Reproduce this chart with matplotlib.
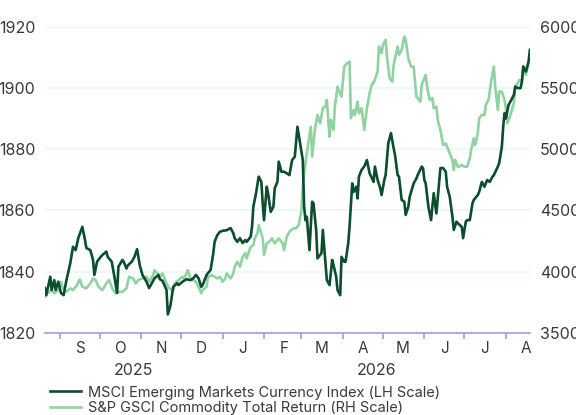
import matplotlib
matplotlib.use("Agg")
import matplotlib.pyplot as plt
import matplotlib.dates as mdates
import matplotlib.transforms as mtransforms
import pandas as pd

plt.rcParams['font.family'] = ['Inter', 'DejaVu Sans']

start = pd.Timestamp("2025-08-21")

# MSCI EM currency index, days since start and level (left scale)
msci_days = [0, 1, 4, 5, 7, 8, 10, 12, 14, 16, 19, 21, 23, 25, 28, 30, 31, 34, 36, 37,
             39, 41, 43, 46, 47, 50, 52, 54, 55, 58, 59, 61, 62, 65, 67, 69, 71, 73, 76, 78,
             80, 82, 85, 86, 88, 91, 92, 94, 96, 99, 100, 103, 106, 109, 111, 113, 115, 117, 118, 121,
             122, 124, 126, 127, 129, 131, 133, 136, 139, 141, 142, 144, 146, 148, 150, 151, 154, 155, 156, 158,
             160, 162, 163, 164, 166, 167, 169, 171, 172, 174, 175, 177, 179, 181, 183, 185, 187, 189, 190, 193,
             194, 195, 196, 198, 200, 201, 203, 204, 207, 208, 210, 211, 213, 215, 216, 218, 219, 221, 222, 224,
             225, 227, 228, 230, 231, 233, 234, 235, 237, 239, 241, 243, 246, 247, 249, 251, 252, 254, 255, 257,
             259, 261, 262, 264, 265, 267, 269, 270, 272, 273, 276, 278, 279, 282, 283, 284, 285, 287, 289, 291,
             293, 296, 298, 300, 301, 303, 305, 306, 308, 309, 312, 313, 315, 316, 318, 320, 321, 324, 325, 327,
             329, 331, 333, 335, 336, 339, 340, 342, 343, 344, 345, 347, 349, 351, 352, 354, 356, 357, 358, 360,
             362, 363]
msci = [1834.6, 1832.3, 1838.3, 1834.0, 1837.2, 1834.0, 1836.7, 1833.0, 1832.3, 1837.0, 1842.8, 1848.1, 1847.0, 1851.0, 1854.6, 1850.3, 1847.7, 1847.0, 1843.8, 1838.9,
        1843.2, 1844.4, 1845.4, 1846.5, 1844.8, 1843.2, 1838.3, 1833.0, 1841.6, 1843.8, 1843.2, 1841.0, 1842.0, 1843.2, 1844.8, 1847.3, 1842.0, 1838.9, 1836.7, 1834.6,
        1836.2, 1837.8, 1838.9, 1837.5, 1837.0, 1834.0, 1826.0, 1829.0, 1835.0, 1836.2, 1835.6, 1836.7, 1837.5, 1837.2, 1837.8, 1838.9, 1837.8, 1835.0, 1835.6, 1838.9,
        1839.5, 1840.5, 1846.0, 1849.7, 1851.9, 1853.0, 1853.3, 1853.5, 1854.2, 1852.5, 1850.9, 1849.7, 1850.9, 1849.3, 1850.3, 1849.7, 1851.4, 1854.6, 1861.2, 1865.6,
        1871.0, 1869.3, 1862.3, 1856.8, 1867.7, 1865.6, 1859.5, 1861.2, 1867.2, 1869.3, 1875.9, 1872.6, 1872.6, 1872.1, 1871.5, 1876.4, 1877.5, 1887.3, 1884.6, 1876.4,
        1861.2, 1856.8, 1857.9, 1847.0, 1862.8, 1862.3, 1853.6, 1844.3, 1846.0, 1853.6, 1842.7, 1837.2, 1835.6, 1843.8, 1842.1, 1838.3, 1834.0, 1832.3, 1844.8, 1843.2,
        1843.2, 1849.2, 1854.6, 1868.8, 1866.0, 1867.7, 1863.9, 1871.0, 1873.2, 1874.3, 1876.4, 1872.1, 1869.3, 1874.3, 1869.9, 1867.2, 1865.0, 1869.9, 1871.5, 1881.9,
        1885.2, 1880.3, 1878.1, 1871.5, 1871.0, 1863.4, 1862.8, 1858.5, 1861.2, 1864.4, 1868.8, 1870.4, 1871.5, 1874.3, 1873.8, 1869.9, 1868.8, 1861.2, 1856.8, 1865.6,
        1859.0, 1873.8, 1873.8, 1872.6, 1867.7, 1864.4, 1857.9, 1853.6, 1856.3, 1855.8, 1854.6, 1850.9, 1856.3, 1856.8, 1856.8, 1862.3, 1863.4, 1865.0, 1866.0, 1869.3,
        1867.7, 1869.9, 1869.3, 1871.0, 1871.5, 1874.3, 1875.4, 1880.8, 1887.3, 1891.7, 1890.0, 1894.4, 1896.0, 1897.7, 1900.4, 1899.9, 1899.9, 1902.0, 1907.0, 1905.3,
        1908.6, 1912.4]

# S&P GSCI commodity total return, days since start and level (right scale)
gsci_days = [0, 2, 5, 7, 10, 12, 13, 16, 19, 21, 24, 26, 28, 31, 34, 36, 38, 40, 43, 46,
             48, 51, 53, 55, 58, 61, 63, 66, 68, 70, 73, 76, 78, 81, 82, 85, 86, 88, 91, 93,
             96, 97, 100, 103, 104, 106, 107, 109, 111, 113, 115, 117, 118, 121, 122, 125, 127, 129, 131, 133,
             135, 136, 139, 141, 142, 144, 146, 148, 150, 151, 154, 156, 157, 159, 160, 163, 164, 166, 168, 170,
             172, 174, 175, 178, 179, 181, 183, 186, 188, 190, 192, 193, 194, 196, 199, 200, 202, 204, 206, 208,
             210, 211, 213, 214, 216, 217, 219, 220, 222, 224, 226, 228, 229, 231, 232, 234, 235, 237, 239, 241,
             243, 245, 246, 249, 250, 252, 253, 255, 256, 258, 260, 261, 264, 265, 267, 269, 270, 272, 274, 276,
             278, 279, 281, 282, 285, 286, 288, 290, 291, 293, 294, 296, 298, 300, 301, 303, 305, 306, 307, 309,
             310, 312, 314, 316, 318, 319, 321, 322, 324, 325, 327, 329, 330, 332, 334, 336, 337, 339, 340, 342,
             344, 345, 346, 348, 351, 352, 354, 355, 357, 358, 360, 362, 363]
gsci = [3794, 3822, 3849, 3822, 3849, 3917, 3876, 3835, 3863, 3849, 3890, 3936, 3876, 3863, 3904, 3944, 3931, 3876, 3849, 3904,
        3931, 3849, 3822, 3835, 3835, 3863, 3958, 3944, 3904, 3931, 3944, 3958, 3917, 3971, 4012, 3971, 3958, 3985, 3904, 3863,
        3849, 3904, 3931, 3958, 3944, 3985, 4012, 3944, 3931, 3917, 3876, 3822, 3849, 3876, 3958, 3971, 3958, 3944, 3958, 3917,
        3944, 3985, 3944, 3985, 4039, 4080, 4039, 4121, 4149, 4108, 4203, 4216, 4271, 4312, 4380, 4271, 4135, 4230, 4244, 4271,
        4230, 4257, 4271, 4230, 4176, 4284, 4325, 4353, 4353, 4380, 4502, 4693, 4802, 4966, 5183, 4938, 5156, 5278, 5210, 5333,
        5352, 5401, 5101, 5238, 5156, 5346, 5510, 5483, 5428, 5673, 5701, 5714, 5252, 5319, 5278, 5387, 5292, 5333, 5156, 5333,
        5456, 5538, 5538, 5632, 5837, 5783, 5851, 5891, 5755, 5578, 5551, 5687, 5837, 5769, 5810, 5918, 5891, 5741, 5673, 5673,
        5428, 5415, 5387, 5524, 5605, 5510, 5401, 5415, 5333, 5346, 5238, 5156, 5033, 5047, 5019, 4966, 4911, 4829, 4911, 4856,
        4856, 4870, 4856, 4856, 4925, 4993, 5088, 5033, 5129, 5252, 5278, 5278, 5360, 5401, 5551, 5673, 5510, 5319, 5469, 5469,
        5401, 5333, 5210, 5265, 5374, 5510, 5538, 5564, 5551, 5646, 5605, 5701, 5741]

msci_dates = start + pd.to_timedelta(msci_days, unit="D")
gsci_dates = start + pd.to_timedelta(gsci_days, unit="D")

dark = "#0b4d2f"
light = "#8fd3a0"
axis_col = "#9b9fdc"
text_col = "#3a3a3a"

fig = plt.figure(figsize=(5.76, 4.15), dpi=100)
ax = fig.add_axes([0.078, 0.198, 0.842, 0.738])
ax2 = ax.twinx()
# left-scale series drawn on top
ax.set_zorder(ax2.get_zorder() + 1)
ax.patch.set_visible(False)

ax.set_ylim(1820, 1920)
ax2.set_ylim(3500, 6000)
ax.set_yticks([1820, 1840, 1860, 1880, 1900, 1920])
ax2.set_yticks([3500, 4000, 4500, 5000, 5500, 6000])

for a in (ax, ax2):
    for s in a.spines.values():
        s.set_visible(False)
    a.tick_params(axis="y", length=0, labelsize=11.5, colors=text_col, pad=7)
ax.spines["bottom"].set_visible(True)
ax.spines["bottom"].set_color(axis_col)
ax.spines["bottom"].set_linewidth(1.2)

ax2.grid(axis="y", color="#eef8f3", linewidth=1.5)
ax2.set_axisbelow(True)

l2, = ax2.plot(gsci_dates, gsci, color=light, linewidth=1.9,
               label="S&P GSCI Commodity Total Return (RH Scale)")
l1, = ax.plot(msci_dates, msci, color=dark, linewidth=1.9,
              label="MSCI Emerging Markets Currency Index (LH Scale)")
ax.set_xlim(msci_dates[0], msci_dates[-1])

# month boundaries as ticks, month letters centred mid-month
ax.xaxis.set_major_locator(mdates.MonthLocator())
ax.xaxis.set_major_formatter(plt.NullFormatter())
ax.xaxis.set_minor_locator(mdates.MonthLocator(bymonthday=16))
ax.xaxis.set_minor_formatter(plt.FuncFormatter(lambda v, p: mdates.num2date(v).strftime("%b")[0]))
ax.tick_params(axis="x", which="major", length=4, width=1.2, color=axis_col)
ax.tick_params(axis="x", which="minor", length=0, labelsize=11, colors=text_col, pad=6)

trans = mtransforms.blended_transform_factory(ax.transData, ax.transAxes)
year_end = pd.Timestamp("2026-01-01")
ax.text(msci_dates[0] + (year_end - msci_dates[0]) / 2, -0.122, "2025", transform=trans,
        ha="center", va="center", fontsize=11.5, color=text_col)
ax.text(year_end + (msci_dates[-1] - year_end) / 2, -0.122, "2026", transform=trans,
        ha="center", va="center", fontsize=11.5, color=text_col)

fig.legend([l1, l2], [l1.get_label(), l2.get_label()], loc="upper left",
           bbox_to_anchor=(0.087, 0.071), frameon=False, fontsize=10.5,
           handlelength=2.15, handletextpad=0.45, labelspacing=0.08,
           borderaxespad=0, borderpad=0, labelcolor=text_col)

fig.savefig("out.png", dpi=100)
